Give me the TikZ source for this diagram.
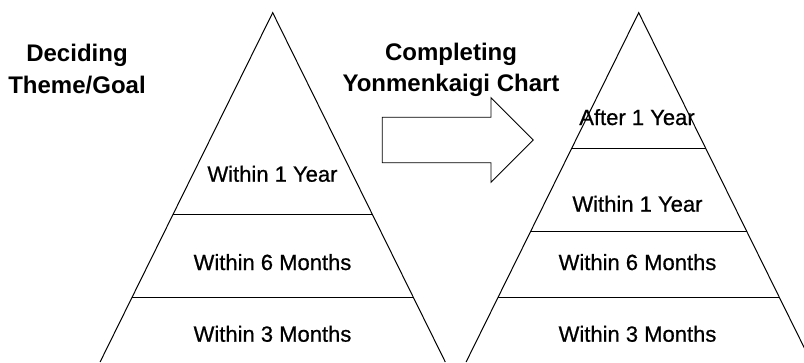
\documentclass[tikz,border=0pt]{standalone}
\usepackage{fontspec}
\setmainfont{Liberation Sans}
\newfontfamily\tierfont[FakeBold=0.7]{Liberation Sans}
\usetikzlibrary{calc}

\begin{document}
\begin{tikzpicture}[x=1pt,y=-1pt,
    edge/.style={draw, line width=1pt},
    tier/.style={font=\tierfont\fontsize{22}{26}\selectfont, anchor=base, inner sep=0pt},
    heading/.style={font=\fontsize{24}{31.6}\selectfont\bfseries, align=center, anchor=base, inner sep=0pt}]
  \useasboundingbox (0,0) rectangle (804,362);
  \clip (0,0) rectangle (804,362);

  % left pyramid
  \coordinate (ltop) at (272.7,12.7);
  \coordinate (lbl) at (100.1,362);
  \coordinate (lbr) at (445.3,362);
  \draw[edge] (lbl) -- (ltop) -- (lbr);
  \foreach \t in {0.579,0.816}
    \draw[edge] ($(ltop)!\t!(lbl)$) -- ($(ltop)!\t!(lbr)$);

  % right pyramid
  \coordinate (rtop) at (638.7,12.7);
  \coordinate (rbl) at (466.1,362);
  \coordinate (rbr) at (811.3,362);
  \draw[edge] (rbl) -- (rtop) -- (rbr);
  \foreach \t in {0.388,0.625,0.816}
    \draw[edge] ($(rtop)!\t!(rbl)$) -- ($(rtop)!\t!(rbr)$);

  % block arrow
  \draw[line width=0.8pt] (382.3,117.3) -- (491,117.3) -- (491,97.7) -- (533.3,140)
    -- (491,182.3) -- (491,162.7) -- (382.3,162.7) -- cycle;

  % headings (base = last line)
  \node[heading] (decide) at (77,93.3) {Deciding\\Theme/Goal};
  \node[heading] (complete) at (451,91.7) {Completing\\Yonmenkaigi Chart};

  % tiers, left
  \node[tier] (lyear) at (272.5,181.7) {Within 1 Year};
  \node[tier] (lsix) at (272.5,270) {Within 6 Months};
  \node[tier] (lthree) at (272.5,341.7) {Within 3 Months};

  % tiers, right
  \node[tier] (rafter) at (637,125) {After 1 Year};
  \node[tier] (ryear) at (637.5,211.7) {Within 1 Year};
  \node[tier] (rsix) at (637.5,270) {Within 6 Months};
  \node[tier] (rthree) at (637.5,341.7) {Within 3 Months};
\end{tikzpicture}
\end{document}
